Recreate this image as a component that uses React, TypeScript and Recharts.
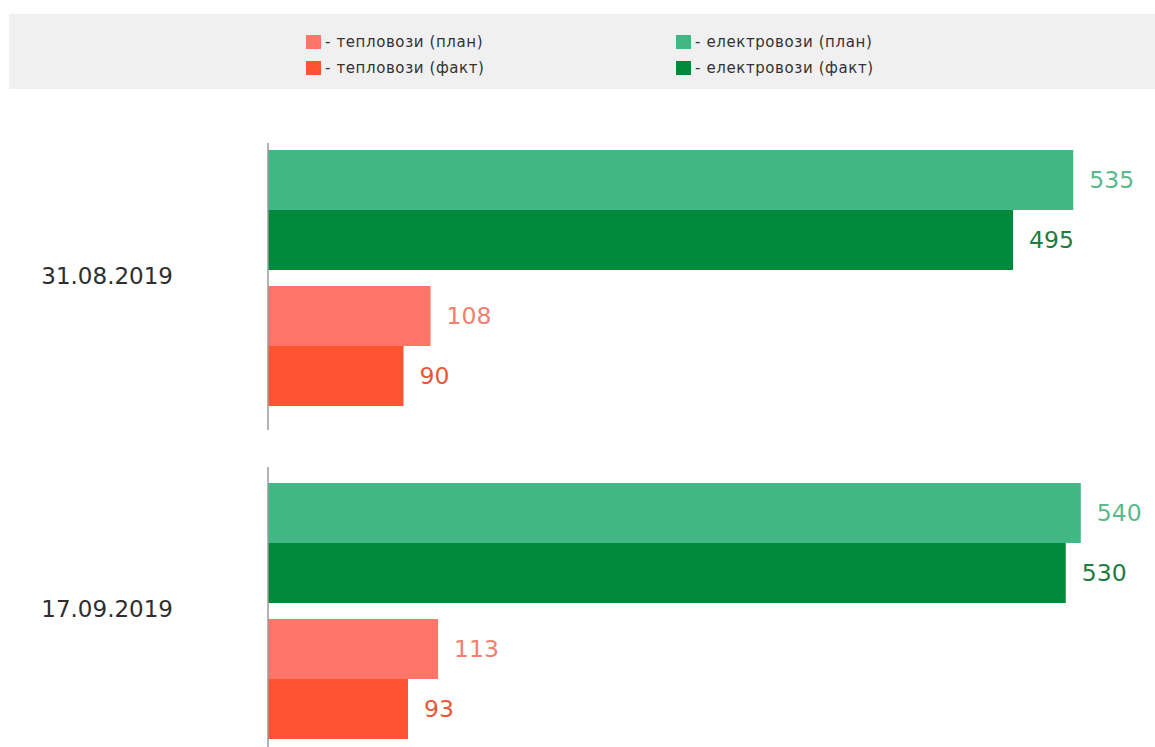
import React from 'react';
import { BarChart, Bar, XAxis, YAxis, LabelList } from 'recharts';

const dates = ['31.08.2019', '17.09.2019'];
const electroPlan = [535, 540];
const electroFact = [495, 530];
const teploPlan = [108, 113];
const teploFact = [90, 93];

const FONT = '"DejaVu Sans", sans-serif';

// order top to bottom inside a date; "gap" is an empty slot between the green and red pair
const bars = [
  { key: 'electroPlan', color: '#41b883', text: '#5ab98d', size: 60 },
  { key: 'electroFact', color: '#00893b', text: '#1e7c3f', size: 60 },
  { key: 'gap', color: 'none', text: 'none', size: 16 },
  { key: 'teploPlan', color: '#ff7567', text: '#f2806f', size: 60 },
  { key: 'teploFact', color: '#ff5331', text: '#ec5636', size: 60 },
];

const legendItems = [
  { name: '- тепловози (план)', color: '#ff7567' },
  { name: '- тепловози (факт)', color: '#ff5331' },
  { name: '- електровози (план)', color: '#41b883' },
  { name: '- електровози (факт)', color: '#00893b' },
];

const rows = dates.map((date, i) => ({
  date,
  electroPlan: electroPlan[i],
  electroFact: electroFact[i],
  teploPlan: teploPlan[i],
  teploFact: teploFact[i],
}));

const DateTick = (props: any) => {
  const { x, y, payload } = props;
  return (
    <text x={x - 87} y={y - 2} textAnchor="end" dominantBaseline="central" fontSize={23} fill="#2e2e2e" fontFamily={FONT}>
      {payload.value}
    </text>
  );
};

const DateChart: React.FC<{ row: any; top: number; padBottom: number }> = ({ row, top, padBottom }) => (
  <div style={{ position: 'absolute', left: 0, top }}>
    <BarChart
      width={1155}
      height={287}
      data={[row]}
      layout="vertical"
      barGap={0}
      margin={{ top: 0, right: 14, bottom: 0, left: 0 }}
    >
      <XAxis type="number" domain={[0, 580]} hide />
      <YAxis
        type="category"
        dataKey="date"
        width={268}
        tickLine={false}
        axisLine={{ stroke: '#9a9a9a', strokeWidth: 1.5 }}
        padding={{ top: 0, bottom: padBottom }}
        tick={<DateTick />}
      />
      {bars.map((b) => (
        <Bar key={b.key} dataKey={b.key} barSize={b.size} fill={b.color} isAnimationActive={false}>
          {b.key !== 'gap' && (
            <LabelList
              dataKey={b.key}
              position="right"
              offset={16}
              fill={b.text}
              fontSize={23.5}
              fontFamily={FONT}
            />
          )}
        </Bar>
      ))}
    </BarChart>
  </div>
);

const App: React.FC = () => (
  <div style={{ position: 'absolute', left: 0, top: 0, width: 1155, height: 747, overflow: 'hidden', background: '#fff' }}>
    <div style={{ position: 'absolute', left: 9, top: 14, width: 1146, height: 75, background: '#f0f0f0' }}>
      {legendItems.map((item, i) => (
        <div
          key={item.name}
          style={{
            position: 'absolute',
            left: i < 2 ? 297 : 667,
            top: i % 2 === 0 ? 19 : 45,
            display: 'flex',
            alignItems: 'center',
            fontFamily: FONT,
            fontSize: 15,
            letterSpacing: 0.6,
            color: '#333',
          }}
        >
          <span style={{ display: 'inline-block', width: 15, height: 14, background: item.color, marginRight: 4 }} />
          <span>{item.name}</span>
        </div>
      ))}
    </div>
    <DateChart row={rows[0]} top={143} padBottom={17} />
    <DateChart row={rows[1]} top={467} padBottom={0} />
  </div>
);

export default App;
